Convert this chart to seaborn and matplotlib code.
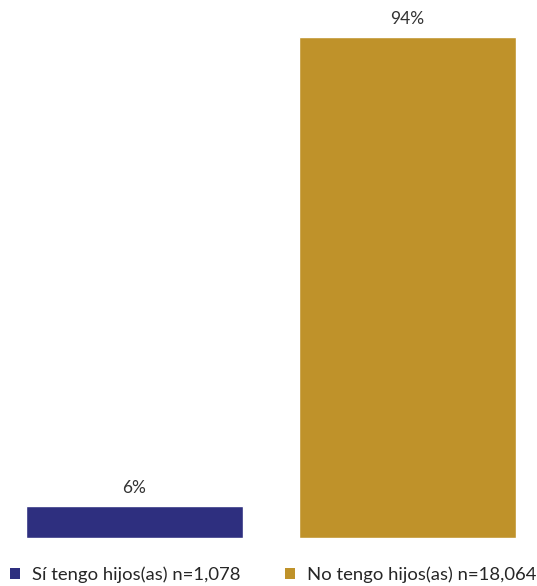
import matplotlib
matplotlib.use("Agg")
import matplotlib.pyplot as plt
import seaborn as sns
import pandas as pd

categories = ["Sí tengo hijos(as) n=1,078", "No tengo hijos(as) n=18,064"]
values = [6, 94]
labels = ["6%", "94%"]
colors = ["#2E2F7F", "#BF922A"]

sns.set_theme(style="white")
plt.rcParams['font.family'] = ['Lato', 'DejaVu Sans']

df = pd.DataFrame({"cat": categories, "val": values})

fig = plt.figure(figsize=(5.37, 5.86), dpi=100)
ax = fig.add_axes([0, 1 - 538/586, 1, (538 - 5)/586])
sns.barplot(data=df, x="cat", y="val", hue="cat", palette=colors, width=0.795,
            legend=False, ax=ax, saturation=1)
ax.set_xlim((0 - 134.5)/273, (537 - 134.5)/273)
ax.set_ylim(0, 100)
for i, (v, lab) in enumerate(zip(values, labels)):
    ax.text(i, v + 1.8, lab, ha="center", va="bottom", fontsize=12.5, color="#333333")
for s in ax.spines.values():
    s.set_visible(False)
ax.set_xticks([]); ax.set_yticks([])
ax.set_xlabel(""); ax.set_ylabel("")

from matplotlib.patches import Patch
handles = [Patch(facecolor=c, edgecolor="none") for c in colors]
fig.legend(handles, categories, loc="center", bbox_to_anchor=(0.508, 1 - 575/586), ncol=2,
           frameon=False, fontsize=13.3, handlelength=0.55, handleheight=0.55,
           handletextpad=0.65, columnspacing=2.4, borderaxespad=0, borderpad=0)
fig.savefig("out.png", dpi=100)
